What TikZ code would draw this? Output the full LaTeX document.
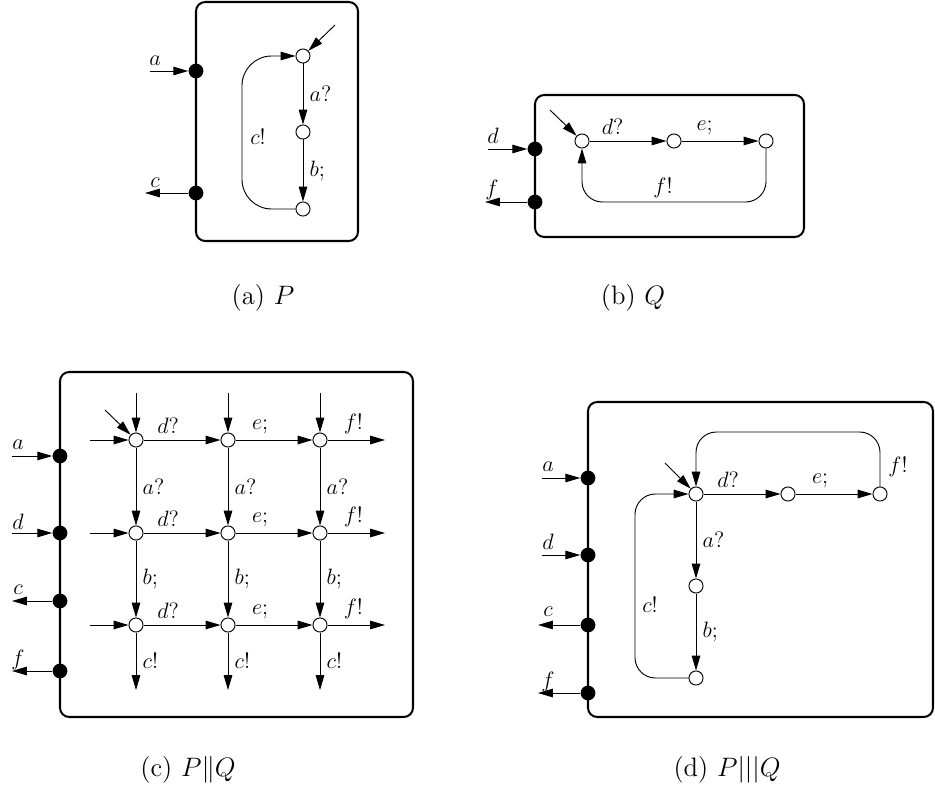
\documentclass[tikz,border=0pt]{standalone}
\usetikzlibrary{arrows.meta}
\tikzset{
  st/.style={circle,draw,fill=white,inner sep=0pt,minimum size=7.6pt,line width=0.5pt},
  port/.style={circle,fill=black,inner sep=0pt,minimum size=8pt},
  tr/.style={-{Triangle[length=8pt,width=4.6pt]},line width=0.5pt},
  cage/.style={line width=1.1pt,rounded corners=5pt},
  caption/.style={font=\Large}
}
\begin{document}
\begin{tikzpicture}[x=0.54pt,y=-0.54pt,font=\large]
  \useasboundingbox (0,0) rectangle (935,795);
  % (a) P
  \draw[cage] (196,2) rectangle (358,241);
  \node[port] (pa) at (196,71) {};
  \node[port] (pc) at (196,193) {};
  \coordinate (ina) at (150,71);
  \coordinate (outc) at (145,193);
  \draw[tr] (ina) -- (pa);
  \draw[tr] (pc) -- (outc);
  \node at (155,61) {$a$};
  \node at (155,183) {$c$};
  \foreach \n/\y in {1/56,2/132,3/209}
    \node[st] (p\n) at (303,\y) {};
  \coordinate (p0) at (335,25);
  \draw[tr] (p0) -- (p1);
  \draw[tr] (p1) -- node[right] {$a?$} (p2);
  \draw[tr] (p2) -- node[right] {$b;$} (p3);
  \draw[tr,rounded corners=16pt] (p3.west) -- (242,209) -- (242,56) -- (p1.west);
  \node at (258,137) {$c!$};
  \node[caption] at (263,298) {(a) $P$};
  % (b) Q
  \draw[cage] (535,95) rectangle (804,237);
  \node[port] (pd) at (535,149) {};
  \node[port] (pf) at (535,202) {};
  \coordinate (ind) at (488,149);
  \coordinate (outf) at (485,202);
  \draw[tr] (ind) -- (pd);
  \draw[tr] (pf) -- (outf);
  \node at (493,136) {$d$};
  \node at (492,190) {$f$};
  \foreach \n/\x in {1/582,2/674,3/766}
    \node[st] (q\n) at (\x,141) {};
  \coordinate (q0) at (550,110);
  \draw[tr] (q0) -- (q1);
  \draw[tr] (q1) -- node[above,pos=0.3] {$d?$} (q2);
  \draw[tr] (q2) -- node[above,pos=0.3] {$e;$} (q3);
  \draw[tr,rounded corners=11pt] (q3.south) -- (766,202) -- (582,202) -- (q1.south);
  \node at (663,188) {$f!$};
  \node[caption] at (633,298) {(b) $Q$};
  % (c) P||Q
  \draw[cage] (60,372) rectangle (413,717);
  \foreach \p/\y in {a/456,d/533,c/601,f/671}
    \node[port] (c\p) at (60,\y) {};
  \coordinate (cina) at (12,456);
  \coordinate (cind) at (12,533);
  \coordinate (coutc) at (12,601);
  \coordinate (coutf) at (12,671);
  \draw[tr] (cina) -- (ca);
  \draw[tr] (cind) -- (cd);
  \draw[tr] (cc) -- (coutc);
  \draw[tr] (cf) -- (coutf);
  \foreach \p/\y in {a/445,d/522,c/590,f/660}
    \node at (18,\y) {$\p$};
  \foreach \i/\y in {1/440,2/533,3/625}
    \foreach \j/\x in {1/136,2/228,3/320}
      \node[st] (g\i\j) at (\x,\y) {};
  \foreach \i/\y in {1/440,2/533,3/625} {
    \coordinate (w\i) at (90,\y);
    \coordinate (e\i) at (385,\y);
    \draw[tr] (w\i) -- (g\i1);
    \draw[tr] (g\i1) -- node[above,pos=0.32] {$d?$} (g\i2);
    \draw[tr] (g\i2) -- node[above,pos=0.32] {$e;$} (g\i3);
    \draw[tr] (g\i3) -- node[above,pos=0.45] {$f!$} (e\i);
  }
  \foreach \j/\x in {1/136,2/228,3/320} {
    \coordinate (n\j) at (\x,393);
    \coordinate (s\j) at (\x,690);
    \draw[tr] (n\j) -- (g1\j);
    \draw[tr] (g1\j) -- node[right] {$a?$} (g2\j);
    \draw[tr] (g2\j) -- node[right] {$b;$} (g3\j);
    \draw[tr] (g3\j) -- node[right] {$c!$} (s\j);
  }
  \coordinate (g0) at (105,410);
  \draw[tr] (g0) -- (g11);
  \node[caption] at (188,770) {(c) $P\|Q$};
  % (d) P|||Q
  \draw[cage] (588,402) rectangle (933,717);
  \foreach \p/\y in {a/478,d/555,c/625,f/693}
    \node[port] (d\p) at (588,\y) {};
  \coordinate (dina) at (542,478);
  \coordinate (dind) at (542,555);
  \coordinate (doutc) at (538,625);
  \coordinate (doutf) at (538,693);
  \draw[tr] (dina) -- (da);
  \draw[tr] (dind) -- (dd);
  \draw[tr] (dc) -- (doutc);
  \draw[tr] (df) -- (doutf);
  \foreach \p/\y in {a/467,d/542,c/612,f/682}
    \node at (548,\y) {$\p$};
  \foreach \n/\x/\y in {1/696/494,2/788/494,3/880/494,4/696/586,5/696/678}
    \node[st] (r\n) at (\x,\y) {};
  \coordinate (r0) at (665,463);
  \draw[tr] (r0) -- (r1);
  \draw[tr] (r1) -- node[above,pos=0.32] {$d?$} (r2);
  \draw[tr] (r2) -- node[above,pos=0.32] {$e;$} (r3);
  \draw[tr] (r1) -- node[right] {$a?$} (r4);
  \draw[tr] (r4) -- node[right] {$b;$} (r5);
  \draw[tr,rounded corners=11pt] (r3.north) -- (880,432) -- (696,432) -- (r1.north);
  \node at (898,467) {$f!$};
  \draw[tr,rounded corners=11pt] (r5.west) -- (635,678) -- (635,494) -- (r1.west);
  \node at (650,605) {$c!$};
  \node[caption] at (727,770) {(d) $P|||Q$};
\end{tikzpicture}
\end{document}
